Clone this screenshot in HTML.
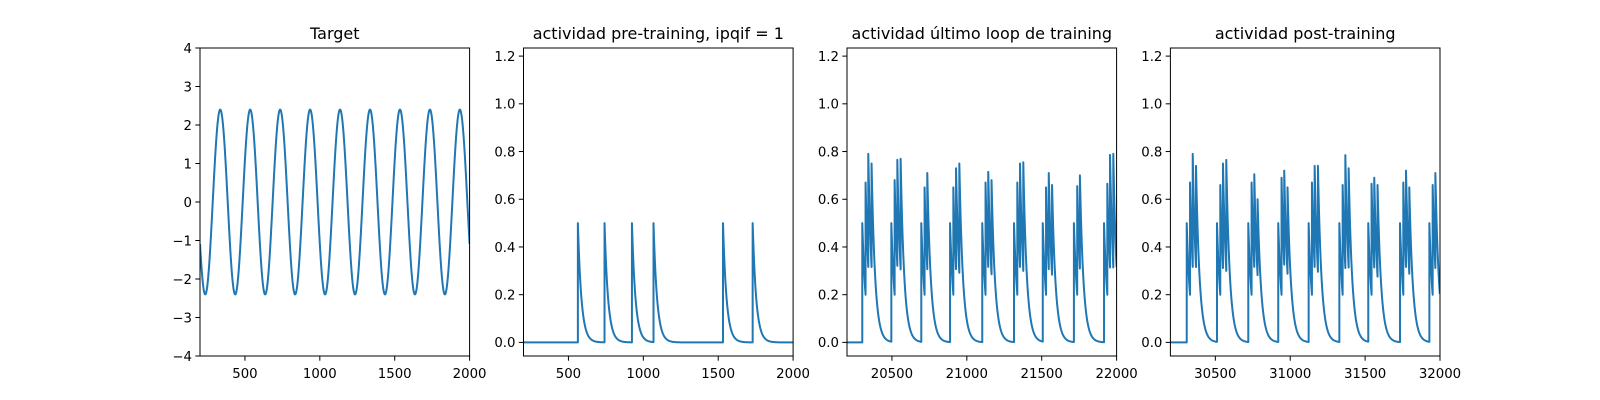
<!DOCTYPE html>
<html><head><meta charset="utf-8">
<style>
html,body{margin:0;padding:0;background:#fff;}
svg{display:block;font-family:"DejaVu Sans","Liberation Sans",sans-serif;}
</style></head>
<body>
<svg id="fig" width="1600" height="400" viewBox="0 0 1600 400"></svg>
<script>
// ---- data ----
const targetAmplitude = [2.4];
const targetPeriod = [200];
const targetPeakAt = [335];
const targetXRange = [200, 2000];

const preSpikeTimes = [563, 741, 924, 1068, 1532, 1730];
const preSpikePeaks = [0.5, 0.5, 0.5, 0.5, 0.5, 0.5];

const spikeOffsets = [0, 22, 40, 62];

const lastBurstStarts = [20302, 20496, 20696, 20888, 21103, 21315, 21507, 21715, 21916];
const lastBurstPeaks = [
  [0.5, 0.67, 0.79, 0.75],
  [0.5, 0.68, 0.765, 0.77],
  [0.5, 0.65, 0.71],
  [0.5, 0.65, 0.73, 0.75],
  [0.5, 0.67, 0.715, 0.68],
  [0.5, 0.67, 0.75, 0.755],
  [0.5, 0.65, 0.71, 0.66],
  [0.5, 0.655, 0.70],
  [0.5, 0.665, 0.786, 0.79]
];

const postBurstStarts = [30309, 30511, 30720, 30920, 31123, 31328, 31521, 31733, 31929];
const postBurstPeaks = [
  [0.5, 0.67, 0.79, 0.74],
  [0.5, 0.66, 0.75, 0.765],
  [0.5, 0.67, 0.705, 0.60],
  [0.5, 0.69, 0.72, 0.65],
  [0.5, 0.67, 0.74, 0.74],
  [0.5, 0.66, 0.785, 0.73],
  [0.5, 0.665, 0.69, 0.66],
  [0.5, 0.67, 0.72, 0.65],
  [0.5, 0.66, 0.71]
];

const ticksTargetX = [500, 1000, 1500, 2000];
const ticksTargetY = [-4, -3, -2, -1, 0, 1, 2, 3, 4];
const ticksPreX = [500, 1000, 1500, 2000];
const ticksLastX = [20500, 21000, 21500, 22000];
const ticksPostX = [30500, 31000, 31500, 32000];
const ticksActY = [0.0, 0.2, 0.4, 0.6, 0.8, 1.0, 1.2];

const titles = ["Target", "actividad pre-training, ipqif = 1", "actividad último loop de training", "actividad post-training"];

const TAU = 24;
const NS = "http://www.w3.org/2000/svg";
const svg = document.getElementById('fig');
const TOP = 48, BOT = 356, W = 269.6;
const lefts = [200, 523.5, 847, 1170.4];

function mk(tag, attrs, parent) {
  const e = document.createElementNS(NS, tag);
  for (const k in attrs) e.setAttribute(k, attrs[k]);
  (parent || svg).appendChild(e);
  return e;
}

function makeAxes(i, xmin, xmax, ymin, ymax, xt, yt, ydec, name) {
  const L = lefts[i];
  const sx = v => L + (v - xmin) / (xmax - xmin) * W;
  const sy = v => BOT - (v - ymin) / (ymax - ymin) * (BOT - TOP);
  const g = mk('g', {});
  
  
  const cp = mk('clipPath', {id: 'clip' + i}, g);
  mk('rect', {x: L, y: TOP, width: W, height: BOT - TOP}, cp);
  xt.forEach(t => {
    const x = sx(t);
    const tk = mk('line', {x1: x, x2: x, y1: BOT, y2: BOT + 4.7, stroke: '#000', 'stroke-width': 1}, g);
    
    
    const tx = mk('text', {x: x, y: BOT + 22, 'font-size': 13.3, 'text-anchor': 'middle', fill: '#000'}, g);
    tx.textContent = String(t);
    
    
  });
  yt.forEach(t => {
    const y = sy(t);
    const tk = mk('line', {x1: L - 4.7, x2: L, y1: y, y2: y, stroke: '#000', 'stroke-width': 1}, g);
    
    
    const tx = mk('text', {x: L - 8, y: y + 4.8, 'font-size': 13.3, 'text-anchor': 'end', fill: '#000'}, g);
    tx.textContent = ydec ? t.toFixed(1) : (t < 0 ? '\u2212' + Math.abs(t) : String(t));
    
    
  });
  const tt = mk('text', {x: L + W / 2, y: TOP - 9, 'font-size': 16, 'text-anchor': 'middle', fill: '#000'}, g);
  tt.textContent = titles[i];
  
  
  return {sx, sy, g, i, L};
}

function frame(ax) {
  const r = mk('rect', {x: ax.L, y: TOP, width: W, height: BOT - TOP, fill: 'none', stroke: '#000', 'stroke-width': 1}, ax.g);
  
  
}

function drawLine(ax, pts, name) {
  const d = pts.map((p, k) => (k ? 'L' : 'M') + ax.sx(p[0]).toFixed(2) + ' ' + ax.sy(p[1]).toFixed(2)).join('');
  const p = mk('path', {d: d, fill: 'none', stroke: '#1f77b4', 'stroke-width': 2, 'stroke-linejoin': 'round', 'clip-path': 'url(#clip' + ax.i + ')'}, ax.g);
  
  
}

function spikeTrace(times, peaks, xmin, xmax) {
  const ev = times.map((t, k) => [t, peaks[k]]).sort((a, b) => a[0] - b[0]);
  const pts = [[xmin, 0]];
  let v = 0, tPrev = xmin;
  ev.forEach(e => {
    for (let t = tPrev + 2; t < e[0]; t += 2) pts.push([t, v * Math.exp(-(t - tPrev) / TAU)]);
    v = v * Math.exp(-(e[0] - tPrev) / TAU);
    pts.push([e[0], v]);
    v = e[1];
    pts.push([e[0], v]);
    tPrev = e[0];
  });
  for (let t = tPrev + 2; t <= xmax; t += 2) pts.push([t, v * Math.exp(-(t - tPrev) / TAU)]);
  return pts;
}

function burstsToSpikes(starts, peaks) {
  const times = [], hs = [];
  starts.forEach((s, b) => peaks[b].forEach((h, k) => { times.push(s + spikeOffsets[k]); hs.push(h); }));
  return [times, hs];
}

const YMIN = -0.057, YMAX = 1.234;

// Panel 1
const a1 = makeAxes(0, 200, 2000, -4, 4, ticksTargetX, ticksTargetY, false, 'target');
const tpts = [];
for (let x = targetXRange[0]; x <= targetXRange[1]; x += 2)
  tpts.push([x, targetAmplitude[0] * Math.cos(2 * Math.PI * (x - targetPeakAt[0]) / targetPeriod[0])]);
drawLine(a1, tpts, 'target-line');
frame(a1);

// Panel 2
const a2 = makeAxes(1, 200, 2000, YMIN, YMAX, ticksPreX, ticksActY, true, 'pre-training');
drawLine(a2, spikeTrace(preSpikeTimes, preSpikePeaks, 200, 2000), 'pre-training-line');
frame(a2);

// Panel 3
const a3 = makeAxes(2, 20200, 22000, YMIN, YMAX, ticksLastX, ticksActY, true, 'last-loop');
const s3 = burstsToSpikes(lastBurstStarts, lastBurstPeaks);
drawLine(a3, spikeTrace(s3[0], s3[1], 20200, 22000), 'last-loop-line');
frame(a3);

// Panel 4
const a4 = makeAxes(3, 30200, 32000, YMIN, YMAX, ticksPostX, ticksActY, true, 'post-training');
const s4 = burstsToSpikes(postBurstStarts, postBurstPeaks);
drawLine(a4, spikeTrace(s4[0], s4[1], 30200, 32000), 'post-training-line');
frame(a4);
</script>
</body></html>
